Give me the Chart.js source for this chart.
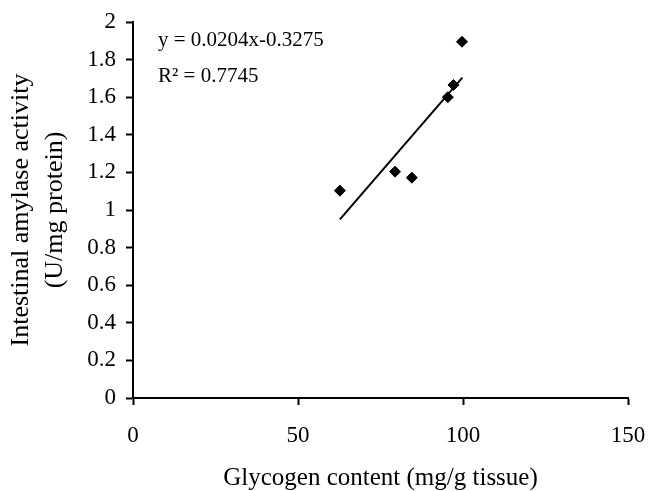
<!DOCTYPE html>
<html>
<head>
<meta charset="utf-8">
<script src="https://cdn.jsdelivr.net/npm/chart.js@4/dist/chart.umd.min.js"></script>
<style>
  html, body { margin: 0; padding: 0; background: #fff; }
  canvas { display: block; }
</style>
</head>
<body>
<canvas id="glycoChart" width="648" height="491"></canvas>
<script>
// Dati
const glycogen = [62.7, 79.4, 84.5, 95.4, 97.1, 99.7];
const amylase = [1.103, 1.204, 1.172, 1.60, 1.665, 1.895];
// Estremi della retta di tendenza
const trendX = [62.7, 99.8];
const trendY = [0.95, 1.704];
const xTicks = [0, 50, 100, 150];
const equationText = 'y = 0.0204x-0.3275';
const r2Text = 'R² = 0.7745';

const serif = "'Liberation Serif', 'Times New Roman', serif";

// Testo dell'equazione sopra il grafico
const equationLabel = {
    id: 'equationLabel',
    afterDraw(chart) {
        const c = chart.ctx;
        c.save();
        c.fillStyle = '#000';
        c.font = '21px ' + serif;
        c.textBaseline = 'middle';
        c.fillText(equationText, 158, 40);
        c.fillText(r2Text, 158, 76);
        c.restore();
    }
};

const ctx = document.getElementById('glycoChart').getContext('2d');

const myChart = new Chart(ctx, {
    type: 'scatter',
    data: {
        datasets: [{
            label: 'Dati',
            data: glycogen.map((x, i) => ({ x: x, y: amylase[i] })),
            pointStyle: 'rectRot',
            pointRadius: 5.5,
            backgroundColor: '#000',
            borderColor: '#000',
            borderWidth: 1,
        }, {
            label: 'Tendenza',
            data: trendX.map((x, i) => ({ x: x, y: trendY[i] })),
            showLine: true,
            pointRadius: 0,
            borderColor: '#000',
            borderWidth: 2,
        }],
    },
    options: {
        responsive: false,
        animation: false,
        layout: { padding: { top: 22, right: 20, left: 0, bottom: 0 } },
        plugins: {
            legend: { display: false },
            tooltip: { enabled: false },
        },
        scales: {
            x: {
                type: 'linear',
                min: 0,
                max: 150,
                afterBuildTicks: axis => { axis.ticks = xTicks.map(v => ({ value: v })); },
                grid: { display: true, drawOnChartArea: false, drawTicks: true, tickLength: 7, tickColor: '#000', tickWidth: 2 },
                border: { display: true, color: '#000', width: 2 },
                ticks: { color: '#000', font: { family: serif, size: 23 }, padding: 17, maxRotation: 0 },
                title: { display: true, text: 'Glycogen content (mg/g tissue)', color: '#000', font: { family: serif, size: 25, lineHeight: 1 }, padding: { top: 0, bottom: 0 } },
                afterFit: scale => {
                    scale.height = 93;
                    scale.paddingLeft = 0;
                    scale.paddingRight = 0;
                },
            },
            y: {
                min: 0,
                max: 2,
                ticks: {
                    stepSize: 0.2,
                    color: '#000',
                    font: { family: serif, size: 23 },
                    padding: 10,
                    callback: v => String(Number(v.toFixed(1))),
                },
                grid: { display: true, drawOnChartArea: false, drawTicks: true, tickLength: 7, tickColor: '#000', tickWidth: 2 },
                border: { display: true, color: '#000', width: 2 },
                title: { display: true, text: ['Intestinal amylase activity', '(U/mg protein)'], color: '#000', font: { family: serif, size: 26, lineHeight: 1.3 }, padding: { top: 4, bottom: 0 } },
                afterFit: scale => {
                    scale.width = 133;
                    scale.paddingTop = 0;
                    scale.paddingBottom = 0;
                },
            },
        },
    },
    plugins: [equationLabel],
});
</script>
</body>
</html>
